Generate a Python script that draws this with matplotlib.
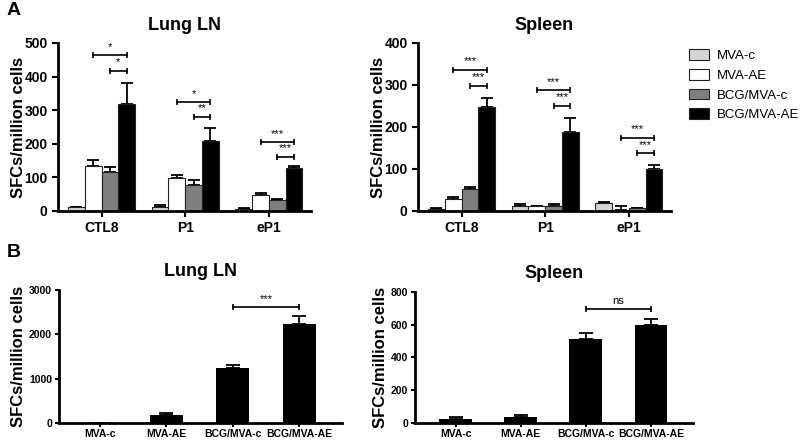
import numpy as np
import matplotlib.pyplot as plt

plt.rcParams['font.family'] = ['Liberation Sans', 'DejaVu Sans']
plt.rcParams['font.weight'] = 'bold'

groups = ['MVA-c', 'MVA-AE', 'BCG/MVA-c', 'BCG/MVA-AE']
colors = ['#d4d4d4', '#ffffff', '#7f7f7f', '#000000']
peptides = ['CTL8', 'P1', 'eP1']

# panel A: rows = peptides, cols = groups
lung_mean = np.array([[11, 133, 115, 318],
                      [12, 98, 76, 208],
                      [7, 47, 34, 127]])
lung_err = np.array([[1, 20, 15, 62],
                     [5, 10, 16, 38],
                     [3, 6, 3, 8]])
spleen_mean = np.array([[5, 29, 53, 247],
                        [12, 11, 13, 189],
                        [18, 3, 6, 101]])
spleen_err = np.array([[3, 4, 3, 22],
                       [4, 2, 4, 33],
                       [4, 10, 2, 9]])

# panel B
lungB_mean = [0, 190, 1240, 2230]
lungB_err = [0, 30, 65, 180]
spleenB_mean = [25, 35, 510, 600]
spleenB_err = [12, 12, 37, 35]

# brackets: (peptide index, bar i, bar j, height, label)
lung_sig = [(0, 1, 3, 464, '*'), (0, 2, 3, 417, '*'),
            (1, 1, 3, 324, '*'), (1, 2, 3, 280, '**'),
            (2, 1, 3, 205, '***'), (2, 2, 3, 161, '***')]
spleen_sig = [(0, 1, 3, 336, '***'), (0, 2, 3, 298, '***'),
              (1, 1, 3, 288, '***'), (1, 2, 3, 250, '***'),
              (2, 1, 3, 174, '***'), (2, 2, 3, 138, '***')]


def style(ax):
    for s in ['top', 'right']:
        ax.spines[s].set_visible(False)
    for s in ['left', 'bottom']:
        ax.spines[s].set_linewidth(2)
    ax.tick_params(width=1.5, length=4)


def bracket(ax, x1, x2, y, txt, fs, dy):
    ax.plot([x1, x2], [y, y], color='k', lw=1.2, marker='|', ms=5, mew=1.2)
    ax.text((x1 + x2) / 2, y + dy, txt, ha='center', va='bottom',
            fontsize=fs, fontweight='normal')


def panelA(ax, mean, err, sig, ymax, step, title):
    centers = np.arange(len(peptides)) * 5.0
    for g in range(4):
        xs = centers + g - 1.5
        ax.bar(xs, mean[:, g], width=1, color=colors[g], edgecolor='#222222',
               lw=0.8, label=groups[g], zorder=2)
        ax.errorbar(xs, mean[:, g], yerr=[np.zeros(3), err[:, g]], fmt='none',
                    ecolor='k', elinewidth=1.3, capsize=4, capthick=1.3, zorder=1)
    for p, i, j, y, txt in sig:
        bracket(ax, centers[p] + i - 1.5, centers[p] + j - 1.5, y, txt, 8, ymax * 0.02)
    style(ax)
    ax.set_xticks(centers)
    ax.set_xticklabels(peptides, fontsize=10, fontweight='bold')
    ax.set_xlim(-2.6, 12.5)
    ax.set_ylim(0, ymax)
    ax.set_yticks(np.arange(0, ymax + 1, step))
    ax.tick_params(axis='y', labelsize=10)
    ax.set_ylabel('SFCs/million cells', fontsize=12, fontweight='bold', labelpad=-1)
    ax.set_title(title, fontsize=13, fontweight='bold', pad=9)


def panelB(ax, mean, err, ymax, step, sig_y, sig_txt, title):
    xs = np.arange(4)
    ax.bar(xs, mean, width=0.5, color='k', zorder=2)
    ax.errorbar(xs, mean, yerr=[np.zeros(4), err], fmt='none', ecolor='k',
                elinewidth=1.3, capsize=5, capthick=1.3, zorder=1)
    bracket(ax, 2, 3, sig_y, sig_txt, 8, ymax * 0.02)
    style(ax)
    ax.set_xticks(xs)
    ax.set_xticklabels(groups, fontsize=7.5, fontweight='bold')
    ax.tick_params(axis='x', length=3, pad=1.5)
    ax.set_xlim(-0.62, 3.65)
    ax.set_ylim(0, ymax)
    ax.set_yticks(np.arange(0, ymax + 1, step))
    ax.tick_params(axis='y', labelsize=7.5, length=3, pad=2)
    ax.set_ylabel('SFCs/million cells', fontsize=12, fontweight='bold', labelpad=2)
    ax.set_title(title, fontsize=13, fontweight='bold', pad=10)


fig = plt.figure(figsize=(8, 4.4), dpi=100)
ax1 = fig.add_axes([0.0725, 0.5205, 0.316, 0.382])
ax2 = fig.add_axes([0.5225, 0.5205, 0.316, 0.382])
ax3 = fig.add_axes([0.07375, 0.0386, 0.354, 0.302])
ax4 = fig.add_axes([0.519, 0.0386, 0.3475, 0.298])

panelA(ax1, lung_mean, lung_err, lung_sig, 500, 100, 'Lung LN')
panelA(ax2, spleen_mean, spleen_err, spleen_sig, 400, 100, 'Spleen')
panelB(ax3, lungB_mean, lungB_err, 3000, 1000, 2617, '***', 'Lung LN')
panelB(ax4, spleenB_mean, spleenB_err, 800, 200, 695, 'ns', 'Spleen')

handles, labels = ax2.get_legend_handles_labels()
fig.legend(handles, labels, loc='upper left', bbox_to_anchor=(0.861, 0.888),
           frameon=False, prop={'size': 9.5, 'weight': 'normal'},
           borderaxespad=0, borderpad=0, handlelength=1.5, handleheight=0.9,
           handletextpad=0.6, labelspacing=0.5)

fig.text(0.008, 0.995, 'A', fontsize=14, fontweight='bold', va='top')
fig.text(0.008, 0.445, 'B', fontsize=14, fontweight='bold', va='top')

fig.savefig('out.png', dpi=100)
